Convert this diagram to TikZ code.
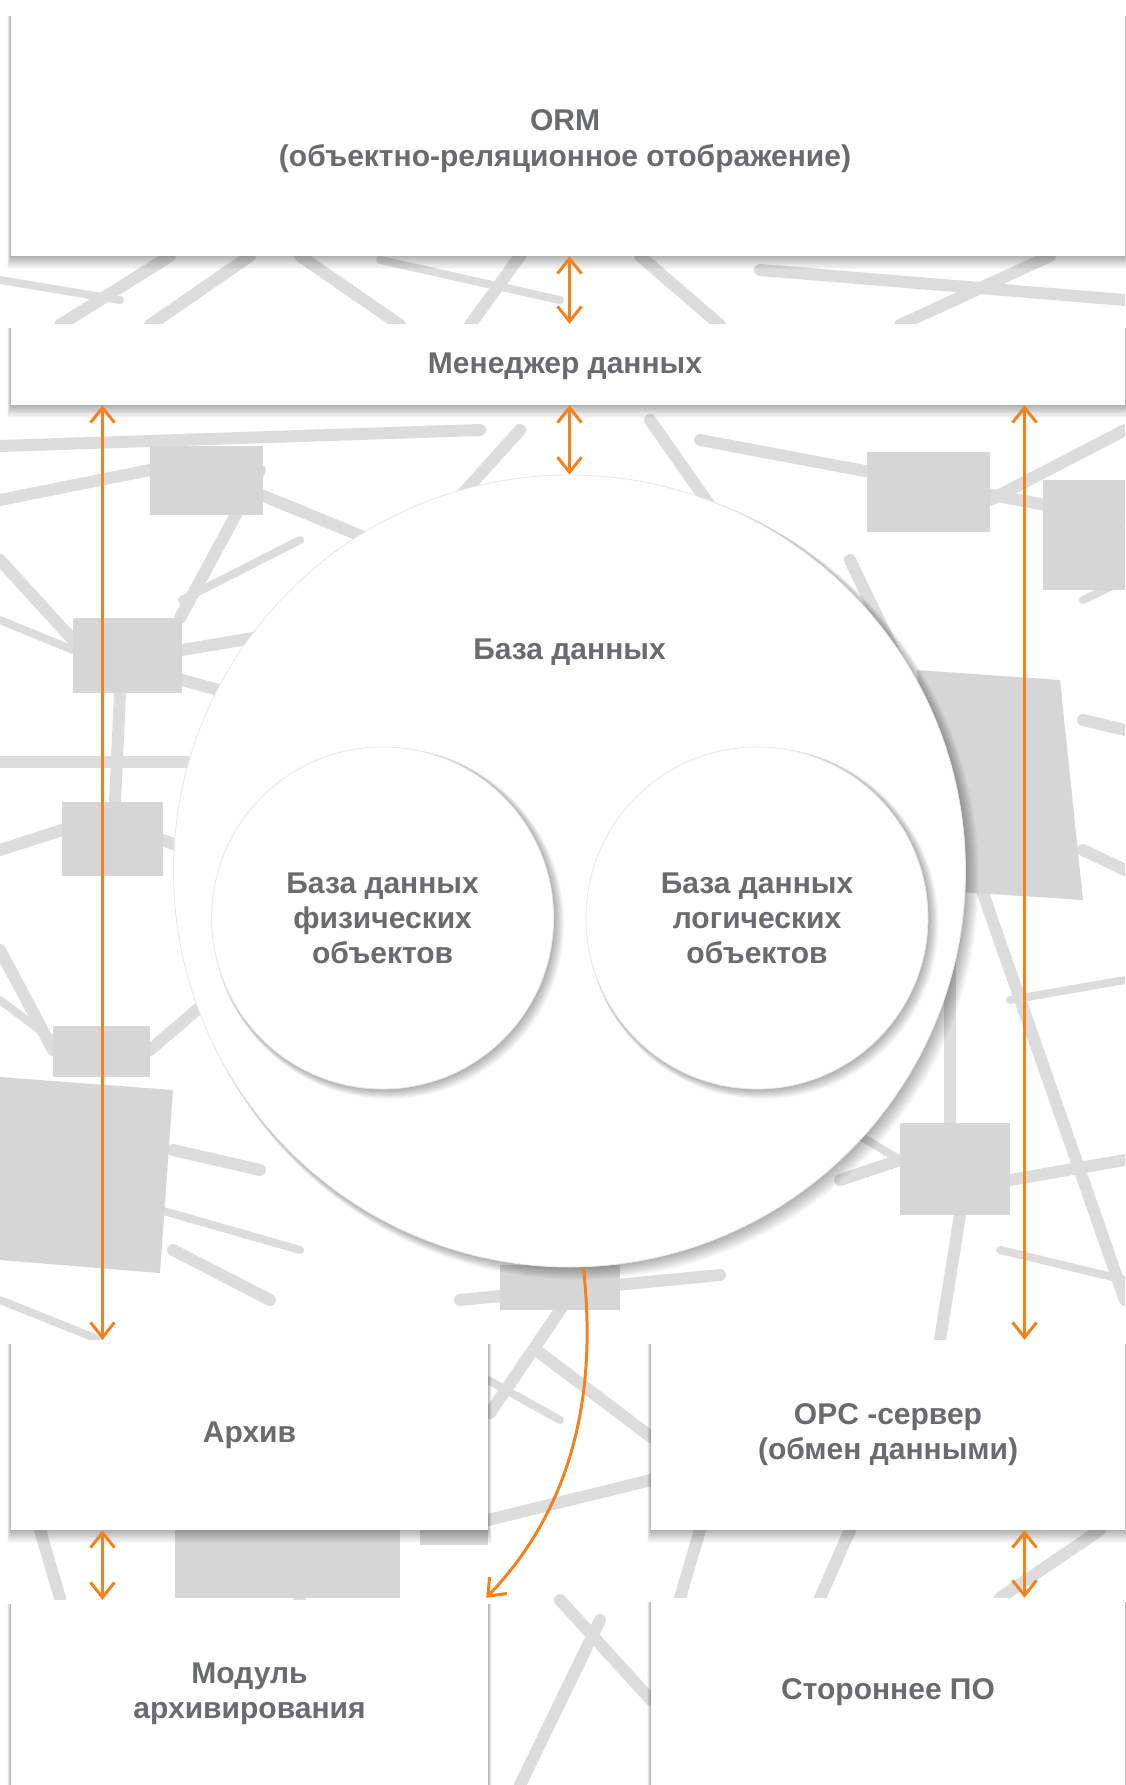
\documentclass[tikz,border=0pt]{standalone}
\usepackage{fontspec}
\setmainfont{Liberation Sans}
\usetikzlibrary{arrows.meta}
\definecolor{orng}{RGB}{242,130,32}
\definecolor{txt}{RGB}{106,107,111}
\definecolor{strut}{RGB}{220,220,220}
\definecolor{blk}{RGB}{214,214,214}
\definecolor{paper}{RGB}{254,254,254}
\tikzset{orbarb/.tip={Straight Barb[length=15pt,width=24pt,line width=3pt]}}
% soft shadow under a rectangle given by its corners (x1,y1) (x2,y2), y downwards
\newcommand\rectshade[4]{%
  \foreach \i in {1,...,12}{%
    \fill[black, opacity=0.028] ({#1-\i*0.3},{#2+4}) rectangle ({#3+\i*0.3},{#4+\i*1.05});
  }}
% soft shadow of a circle: centre (x,y), radius r, offset scale s
\newcommand\circshade[4]{%
  \foreach \i in {1,...,12}{%
    \fill[black, opacity=0.028] ({#1+\i*0.5*#4},{#2+\i*0.45*#4}) circle ({#3+\i*0.38});
  }}
\begin{document}
\begin{tikzpicture}[x=1pt,y=-1pt,
  lbl/.style={font=\bfseries\fontsize{30}{35}\selectfont, text=txt, align=center},
  box/.style={rectangle, fill=paper, draw=none, inner sep=0pt, lbl},
  disc/.style={circle, fill=paper, draw=black!9, line width=0.8pt, inner sep=0pt, lbl},
  conn/.style={draw=orng, line width=3pt},
  strutline/.style={draw=strut, line width=12pt, line cap=round},
  thinstrut/.style={draw=strut, line width=8pt, line cap=round},
  block/.style={fill=blk}
]
\useasboundingbox (0,0) rectangle (1125,1785);
\fill[white] (0,0) rectangle (1125,1785);

% ---------- background network ----------
\begin{scope}
  \clip (0,0) rectangle (1125,1785);
  \draw[strutline] (0,446) -- (480,430);
  \draw[strutline] (0,500) -- (150,470);
  \draw[strutline] (0,560) -- (73,640);
  \draw[thinstrut] (0,620) -- (73,650);
  \draw[strutline] (182,650) -- (420,610);
  \draw[thinstrut] (182,600) -- (300,540);
  \draw[strutline] (182,680) -- (330,720);
  \draw[strutline] (0,762) -- (187,762);
  \draw[strutline] (0,850) -- (62,830);
  \draw[strutline] (163,840) -- (240,870);
  \draw[strutline] (120,693) -- (115,802);
  \draw[strutline] (0,950) -- (53,1050);
  \draw[thinstrut] (0,1000) -- (53,1040);
  \draw[strutline] (150,1050) -- (220,990);
  \draw[strutline] (173,1150) -- (260,1170);
  \draw[strutline] (173,1250) -- (270,1300);
  \draw[thinstrut] (160,1210) -- (300,1250);
  \draw[thinstrut] (0,1300) -- (100,1340);
  \draw[strutline] (260,470) -- (180,618);
  \draw[strutline] (200,470) -- (420,560);
  \draw[strutline] (520,430) -- (430,530);
  \draw[strutline] (650,420) -- (720,520);
  \draw[strutline] (700,440) -- (1125,520);
  \draw[strutline] (990,500) -- (1125,430);
  \draw[thinstrut] (1083,600) -- (1125,580);
  \draw[strutline] (917,700) -- (850,560);
  \draw[strutline] (1083,720) -- (1125,730);
  \draw[strutline] (1083,850) -- (1125,870);
  \draw[strutline] (977,876) -- (1125,1300);
  \draw[strutline] (900,1160) -- (840,1180);
  \draw[thinstrut] (800,1100) -- (900,1160);
  \draw[strutline] (1010,1180) -- (1125,1160);
  \draw[thinstrut] (1010,1000) -- (1125,980);
  \draw[thinstrut] (1000,1250) -- (1125,1280);
  \draw[strutline] (950,900) -- (950,1123);
  \draw[strutline] (960,1215) -- (940,1340);
  \draw[strutline] (870,1000) -- (917,900);
  \draw[strutline] (60,325) -- (170,256);
  \draw[strutline] (150,325) -- (250,256);
  \draw[strutline] (300,256) -- (400,325);
  \draw[strutline] (520,256) -- (470,325);
  \draw[strutline] (640,256) -- (720,325);
  \draw[strutline] (760,270) -- (1125,300);
  \draw[strutline] (900,325) -- (1050,256);
  \draw[thinstrut] (0,280) -- (120,300);
  \draw[thinstrut] (380,260) -- (560,300);
  \draw[strutline] (60,1598) -- (40,1530);
  \draw[strutline] (300,1598) -- (260,1530);
  \draw[strutline] (460,1300) -- (720,1275);
  \draw[strutline] (567,1300) -- (490,1413);
  \draw[strutline] (540,1353) -- (651,1437);
  \draw[thinstrut] (488,1380) -- (560,1420);
  \draw[strutline] (488,1520) -- (651,1480);
  \draw[strutline] (560,1600) -- (651,1700);
  \draw[strutline] (520,1785) -- (600,1620);
  \draw[strutline] (700,1530) -- (680,1598);
  \draw[strutline] (820,1598) -- (850,1530);
  \draw[strutline] (1000,1598) -- (1100,1530);
  \fill[block] (73,618) rectangle (182,693);
  \fill[block] (62,802) rectangle (163,876);
  \fill[block] (53,1026) rectangle (150,1077);
  \fill[block] (0,1077) -- (173,1090) -- (160,1273) -- (0,1260) -- cycle;
  \fill[block] (150,446) rectangle (263,515);
  \fill[block] (917,670) -- (1060,680) -- (1083,900) -- (930,890) -- cycle;
  \fill[block] (900,1123) rectangle (1010,1215);
  \fill[block] (867,452) rectangle (990,532);
  \fill[block] (1043,480) rectangle (1125,590);
  \fill[block] (500,1265) rectangle (620,1310);
  \fill[block] (175,1530) rectangle (400,1598);
  \fill[block] (420,1490) rectangle (488,1545);
\end{scope}

% ---------- shadows ----------
\rectshade{11}{12}{1125}{256}
\rectshade{11}{324}{1125}{405}
\rectshade{11}{1340}{488}{1530}
\rectshade{651}{1340}{1125}{1530}
\rectshade{11}{1600}{488}{1788}
\rectshade{651}{1598}{1125}{1786}

% ---------- boxes ----------
\node[box, minimum width=1114pt, minimum height=244pt] (orm) at (568,134) {};
\node[lbl, font=\bfseries\fontsize{30}{36}\selectfont] (ormt) at (565,141)
  {ORM\\(объектно-реляционное отображение)};
\node[box, minimum width=1114pt, minimum height=81pt] (mgr) at (568,364.5) {};
\node[lbl] (mgrt) at (565,366) {Менеджер данных};
\node[box, minimum width=477pt, minimum height=190pt] (arc) at (249.5,1435) {Архив};
\node[box, minimum width=474pt, minimum height=190pt] (opc) at (888,1435)
  {OPC -сервер\\(обмен данными)};
\node[box, minimum width=477pt, minimum height=188pt] (mod) at (249.5,1694)
  {Модуль\\архивирования};
\node[box, minimum width=474pt, minimum height=188pt] (ext) at (888,1692)
  {Стороннее ПО};

% ---------- circles ----------
\circshade{569.5}{871}{396}{1.5}
\node[disc, minimum size=792pt] (db) at (569.5,871) {};
\node[lbl] (dbt) at (569.5,652) {База данных};
\circshade{382.6}{918}{171}{1}
\circshade{757}{918}{171}{1}
\node[disc, minimum size=342pt] (phys) at (382.6,918)
  {База данных\\физических\\объектов};
\node[disc, minimum size=342pt] (logic) at (757,918)
  {База данных\\логических\\объектов};

% ---------- connectors ----------
\coordinate (lx) at (102.5,0);
\coordinate (rx) at (1024.5,0);
\coordinate (cx) at (569.5,0);
\draw[conn, orbarb-orbarb] (cx |- orm.south) -- (cx |- mgr.north);
\draw[conn, orbarb-orbarb] (cx |- mgr.south) -- (db.north);
\draw[conn, orbarb-orbarb] (lx |- mgr.south) -- (lx |- arc.north);
\draw[conn, orbarb-orbarb] (rx |- mgr.south) -- (rx |- opc.north);
\draw[conn, orbarb-orbarb] (lx |- arc.south) -- (lx |- mod.north);
\draw[conn, orbarb-orbarb] (rx |- opc.south) -- (rx |- ext.north);
\draw[conn, -orbarb] (db.-88.8) .. controls (596,1380) and (580,1500) .. ([xshift=-2pt,yshift=2pt]mod.north east);
\end{tikzpicture}
\end{document}
